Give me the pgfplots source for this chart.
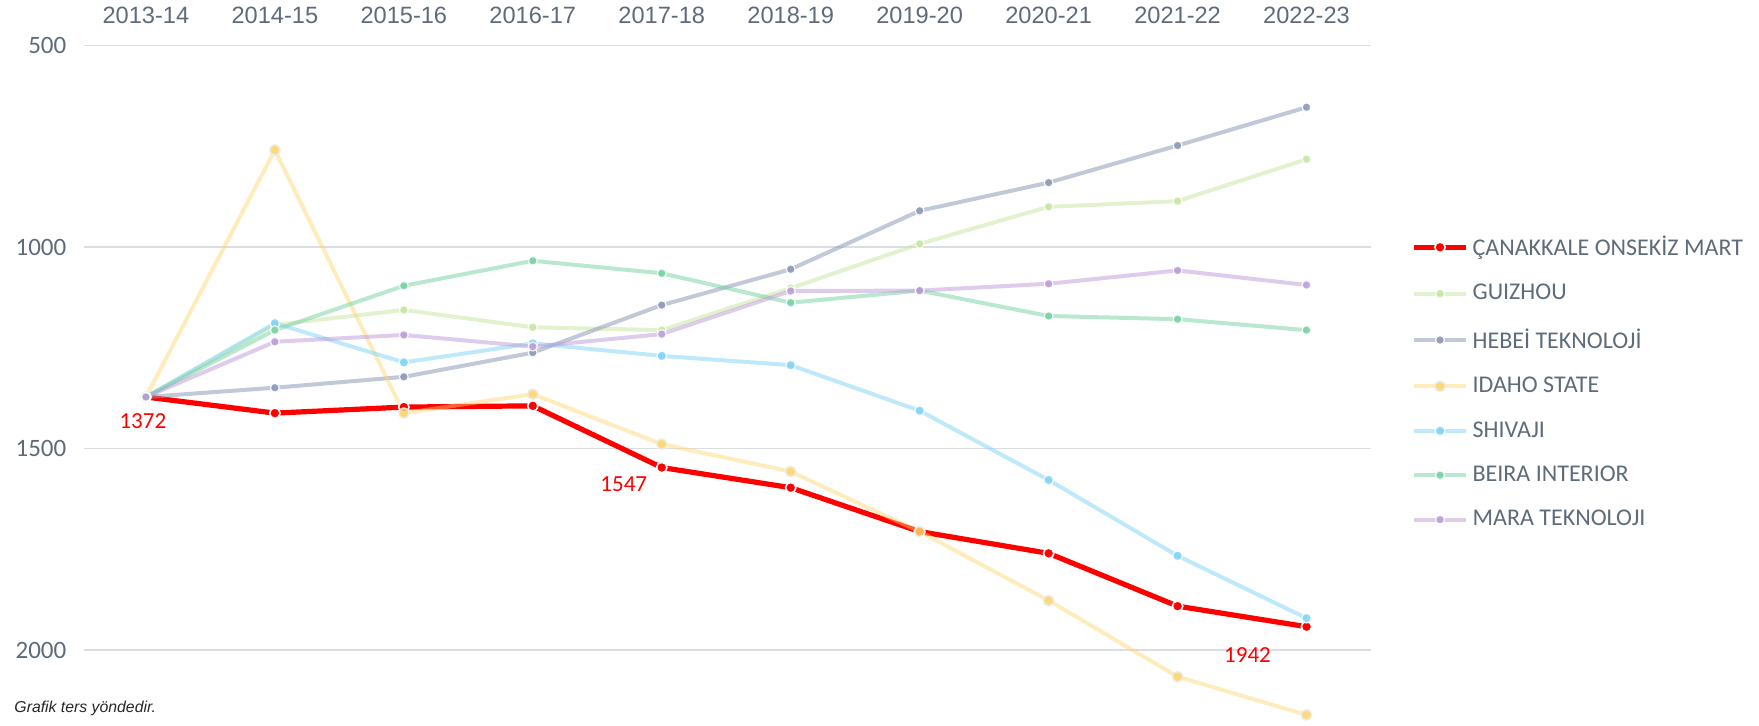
\documentclass[border=0pt]{standalone}
\usepackage{pgfplots}
\pgfplotsset{compat=1.18}
\usepackage{fontspec}
\setmainfont{Liberation Sans}
\newfontfamily\carl{Carlito}
\definecolor{txt}{HTML}{5F6B78}
\definecolor{gridc}{HTML}{DADEE3}
\definecolor{cRed}{HTML}{FF0000}
\definecolor{cGui}{HTML}{C5E6A0}
\definecolor{cHeb}{HTML}{8E9AB8}
\definecolor{cIda}{HTML}{FCD56A}
\definecolor{cShi}{HTML}{7DD3F5}
\definecolor{cBei}{HTML}{74D0A0}
\definecolor{cMar}{HTML}{BB9AD8}
\begin{document}
\begin{tikzpicture}
\path[use as bounding box] (-42pt,-1.7pt) rectangle (837.5pt,361.3pt);
\begin{axis}[
  at={(0,0)}, anchor=south west,
  scale only axis, width=643.5pt, height=338.5pt,
  xmin=-0.48, xmax=9.5, ymin=500, ymax=2180, y dir=reverse,
  xtick={0,...,9},
  xticklabels={2013-14,2014-15,2015-16,2016-17,2017-18,2018-19,2019-20,2020-21,2021-22,2022-23},
  xticklabel pos=upper,
  xticklabel style={font=\fontsize{11.8}{12}\selectfont, text=txt, yshift=7.3pt},
  ytick={500,1000,1500,2000},
  yticklabel style={font=\carl\fontsize{12.5}{12.5}\selectfont, text=txt, anchor=east, xshift=-5.3pt},
  /pgf/number format/assume math mode=true,
  /pgf/number format/1000 sep={},
  ymajorgrids, grid style={line width=0.9pt, color=gridc},
  axis line style={draw=none}, major tick length=0pt,
  clip=false,
  legend cell align=left,
  legend style={at={(1,1)}, anchor=north west, xshift=20pt, yshift=-93pt,
    draw=none, fill=none, font=\carl\fontsize{12}{12}\selectfont, text=txt,
    row sep=8.9pt, inner sep=0pt},
  legend image code/.code={
    \draw[#1, mark=none] (0pt,0pt) -- (26pt,0pt);
    \draw[#1, only marks] plot coordinates {(13pt,0pt)};
  },
]
\addplot[cRed, line width=2.6pt, mark=*, mark size=2.6pt,
  mark options={fill=cRed, draw=white, line width=0.8pt}]
  coordinates {(0,1372) (1,1412) (2,1397) (3,1394) (4,1547) (5,1597) (6,1706) (7,1760) (8,1891) (9,1942)};
\addlegendentry{ÇANAKKALE ONSEKİZ MART}
\addplot[cGui, line width=2pt, draw opacity=0.5, mark=*, mark size=2.2pt,
  mark options={fill=cGui, draw=white, line width=0.6pt, opacity=0.85}]
  coordinates {(0,1372) (1,1193) (2,1156) (3,1199) (4,1206) (5,1102) (6,992) (7,900) (8,886) (9,782)};
\addlegendentry{GUIZHOU}
\addplot[cHeb, line width=2pt, draw opacity=0.55, mark=*, mark size=2.2pt,
  mark options={fill=cHeb, draw=white, line width=0.6pt, opacity=0.9}]
  coordinates {(0,1372) (1,1349) (2,1322) (3,1262) (4,1144) (5,1055) (6,910) (7,840) (8,748) (9,653)};
\addlegendentry{HEBEİ TEKNOLOJİ}
\addplot[cIda, line width=2pt, draw opacity=0.45, mark=*, mark size=2.6pt,
  mark options={fill=cIda, draw=black!8, line width=0.8pt, opacity=0.85}]
  coordinates {(0,1372) (1,759) (2,1412) (3,1365) (4,1489) (5,1557) (6,1706) (7,1877) (8,2066) (9,2161)};
\addlegendentry{IDAHO STATE}
\addplot[cShi, line width=2pt, draw opacity=0.5, mark=*, mark size=2.4pt,
  mark options={fill=cShi, draw=white, line width=0.6pt, opacity=0.85}]
  coordinates {(0,1372) (1,1189) (2,1286) (3,1239) (4,1270) (5,1293) (6,1406) (7,1578) (8,1766) (9,1921)};
\addlegendentry{SHIVAJI}
\addplot[cBei, line width=2pt, draw opacity=0.5, mark=*, mark size=2.2pt,
  mark options={fill=cBei, draw=white, line width=0.6pt, opacity=0.85}]
  coordinates {(0,1372) (1,1206) (2,1096) (3,1034) (4,1065) (5,1138) (6,1108) (7,1171) (8,1179) (9,1206)};
\addlegendentry{BEIRA INTERIOR}
\addplot[cMar, line width=2pt, draw opacity=0.5, mark=*, mark size=2.2pt,
  mark options={fill=cMar, draw=white, line width=0.6pt, opacity=0.85}]
  coordinates {(0,1372) (1,1235) (2,1218) (3,1247) (4,1216) (5,1109) (6,1108) (7,1091) (8,1058) (9,1094)};
\addlegendentry{MARA TEKNOLOJI}
\node[text=cRed, font=\carl\fontsize{11.5}{11.5}\selectfont] at (axis cs:0,1372) [xshift=-1.5pt, yshift=-12pt] {1372};
\node[text=cRed, font=\carl\fontsize{11.5}{11.5}\selectfont] at (axis cs:4,1547) [xshift=-19pt, yshift=-8.5pt] {1547};
\node[text=cRed, font=\carl\fontsize{11.5}{11.5}\selectfont] at (axis cs:9,1942) [xshift=-29.5pt, yshift=-14pt] {1942};
\end{axis}
\node[anchor=base west, font=\itshape\fontsize{7.9}{8}\selectfont, text=black!85] at (-38.3pt,4.8pt) {Grafik ters yöndedir.};
\end{tikzpicture}
\end{document}
